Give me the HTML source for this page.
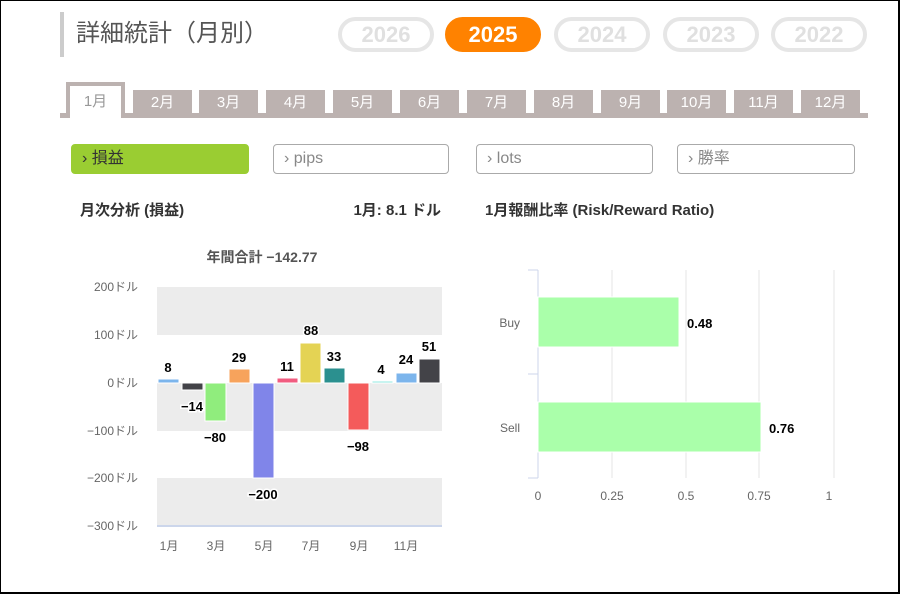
<!DOCTYPE html>
<html><head><meta charset="utf-8"><style>
*{margin:0;padding:0;box-sizing:border-box}
body{width:900px;height:594px;background:#fff;font-family:"Liberation Sans","Noto Sans CJK JP",sans-serif;position:relative;overflow:hidden}
.frame{position:absolute;left:0;top:0;width:900px;height:594px;border:1px solid #000;border-right:2px solid #000;border-bottom:2px solid #000}
.a{position:absolute}
.title{left:60px;top:12px;height:45px;border-left:4px solid #ccc;padding-left:12px;font-size:24px;color:#555;line-height:44px}
.pill{top:17px;height:35px;width:96px;border:4px solid #e6e6e6;border-radius:18px;color:#e0e0e0;font-weight:bold;font-size:22px;text-align:center;line-height:27px}
.pill.on{background:#ff8200;border-color:#ff8200;color:#fff}
.tab{top:90px;height:26px;background:#bcb2b0;color:#fff;font-size:15px;text-align:center;line-height:26px}
.btn{top:144px;height:30px;border:1px solid #aaa;border-radius:4px;font-size:16px;color:#888;padding-left:10px;line-height:28px}
</style></head><body>
<div class="a title">詳細統計（月別）</div>
<div class="a pill" style="left:338px">2026</div>
<div class="a pill on" style="left:445px">2025</div>
<div class="a pill" style="left:554px">2024</div>
<div class="a pill" style="left:663px">2023</div>
<div class="a pill" style="left:771px">2022</div>
<div class="a" style="left:60px;top:113px;width:808px;height:5px;background:#bcb2b0"></div>
<div class="a" style="left:66px;top:82px;width:59px;height:36px;background:#fff;border:4px solid #bcb2b0;border-bottom:none;color:#999;font-size:15px;text-align:center;line-height:32px">1月</div>
<div class="a tab" style="left:133px;width:59px">2月</div>
<div class="a tab" style="left:199px;width:59px">3月</div>
<div class="a tab" style="left:266px;width:59px">4月</div>
<div class="a tab" style="left:333px;width:59px">5月</div>
<div class="a tab" style="left:400px;width:59px">6月</div>
<div class="a tab" style="left:467px;width:59px">7月</div>
<div class="a tab" style="left:534px;width:59px">8月</div>
<div class="a tab" style="left:601px;width:59px">9月</div>
<div class="a tab" style="left:667px;width:59px">10月</div>
<div class="a tab" style="left:734px;width:59px">11月</div>
<div class="a tab" style="left:801px;width:59px">12月</div>
<div class="a btn" style="left:71px;width:178px;background:#9acd32;border-color:#9acd32;color:#333">› 損益</div>
<div class="a btn" style="left:273px;width:176px">› pips</div>
<div class="a btn" style="left:476px;width:177px">› lots</div>
<div class="a btn" style="left:677px;width:178px">› 勝率</div>
<svg class="a" style="left:0;top:0" width="900" height="594" font-family="Liberation Sans, Noto Sans CJK JP, sans-serif">
<g font-weight="bold" font-size="15" fill="#333">
<text x="80" y="215">月次分析 (損益)</text>
<text x="441" y="215" text-anchor="end">1月:  8.1 ドル</text>
<text x="485" y="215">1月報酬比率 (Risk/Reward Ratio)</text>
<text x="262" y="262" text-anchor="middle" fill="#555" font-size="14">年間合計 −142.77</text>
</g>
<rect x="157" y="287" width="285" height="48" fill="#ececec"/>
<rect x="157" y="383" width="285" height="48" fill="#ececec"/>
<rect x="157" y="478" width="285" height="48" fill="#ececec"/>
<line x1="157" y1="526" x2="442" y2="526" stroke="#ccd6eb" stroke-width="2"/>
<g font-size="12" fill="#666" text-anchor="end">
<text x="138" y="291">200ドル</text><text x="138" y="339">100ドル</text><text x="138" y="387">0ドル</text>
<text x="138" y="435">−100ドル</text><text x="138" y="482">−200ドル</text><text x="138" y="530">−300ドル</text>
</g>
<g font-size="12" fill="#666" text-anchor="middle">
<text x="169" y="550">1月</text><text x="216" y="550">3月</text><text x="264" y="550">5月</text>
<text x="311" y="550">7月</text><text x="359" y="550">9月</text><text x="406" y="550">11月</text>
</g>
<g stroke="#fff" stroke-width="1">
<rect x="158" y="379" width="21" height="4" fill="#7cb5ec"/>
<rect x="182" y="383" width="21" height="7" fill="#434348"/>
<rect x="205" y="383" width="21" height="38" fill="#90ed7d"/>
<rect x="229" y="369" width="21" height="14" fill="#f7a35c"/>
<rect x="253" y="383" width="21" height="95" fill="#8085e9"/>
<rect x="277" y="378" width="21" height="5" fill="#f15c80"/>
<rect x="300" y="343" width="21" height="40" fill="#e4d354"/>
<rect x="324" y="368" width="21" height="15" fill="#2b908f"/>
<rect x="348" y="383" width="21" height="47" fill="#f45b5b"/>
<rect x="372" y="381" width="21" height="2" fill="#91e8e1"/>
<rect x="396" y="373" width="21" height="10" fill="#7cb5ec"/>
<rect x="419" y="359" width="21" height="24" fill="#434348"/>
</g>
<g font-size="13" font-weight="bold" fill="#000" text-anchor="middle" stroke="#fff" stroke-width="3" paint-order="stroke">
<text x="168" y="372">8</text><text x="192" y="411">−14</text><text x="215" y="442">−80</text>
<text x="239" y="362">29</text><text x="263" y="499">−200</text><text x="287" y="371">11</text>
<text x="311" y="335">88</text><text x="334" y="361">33</text><text x="358" y="451">−98</text>
<text x="381" y="374">4</text><text x="406" y="364">24</text><text x="429" y="351">51</text>
</g>
<g stroke="#e6e6e6" stroke-width="1">
<line x1="612" y1="270" x2="612" y2="478"/><line x1="686" y1="270" x2="686" y2="478"/>
<line x1="759" y1="270" x2="759" y2="478"/><line x1="834" y1="270" x2="834" y2="478"/>
</g>
<g stroke="#ccd6eb" stroke-width="1" fill="none">
<line x1="538" y1="270" x2="538" y2="478"/>
<line x1="528" y1="270" x2="538" y2="270"/><line x1="528" y1="374" x2="538" y2="374"/><line x1="528" y1="478" x2="538" y2="478"/>
</g>
<rect x="538" y="297" width="141" height="50" fill="#aaffaa" stroke="#fff"/>
<rect x="538" y="402" width="223" height="50" fill="#aaffaa" stroke="#fff"/>
<g font-size="13" font-weight="bold" fill="#000">
<text x="687" y="328">0.48</text><text x="769" y="433">0.76</text>
</g>
<g font-size="12" fill="#666" text-anchor="end">
<text x="520" y="327">Buy</text><text x="520" y="432">Sell</text>
</g>
<g font-size="12" fill="#666" text-anchor="middle">
<text x="538" y="500">0</text><text x="612" y="500">0.25</text><text x="686" y="500">0.5</text>
<text x="759" y="500">0.75</text><text x="829" y="500">1</text>
</g>
</svg>
<div class="frame"></div>
</body></html>
